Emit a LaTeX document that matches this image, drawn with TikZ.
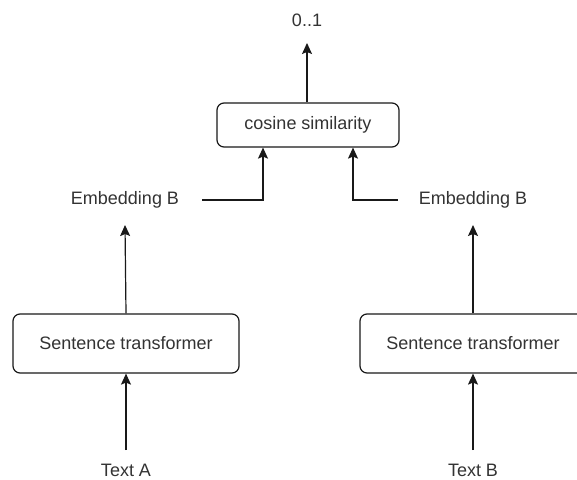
\documentclass[tikz,border=0pt]{standalone}
\usepackage{fontspec}
\setmainfont{Liberation Sans}
\usetikzlibrary{arrows.meta}
\begin{document}
\begin{tikzpicture}[x=1pt,y=-1pt,
  box/.style={draw=black!90, line width=1.2pt, rounded corners=7pt, minimum width=226pt, minimum height=59pt, text=black!80, font=\fontsize{18}{21}\selectfont, inner sep=0pt},
  cosbox/.style={draw=black!90, line width=1.2pt, rounded corners=7pt, minimum width=182pt, minimum height=44pt, text=black!80, font=\fontsize{18}{21}\selectfont, inner sep=0pt},
  lbl/.style={text=black!80, font=\fontsize{18}{21}\selectfont, inner sep=0pt},
  arr/.style={draw=black!90, line width=1.2pt, -{Stealth[length=11pt,width=10pt,inset=2pt]}},
  ln/.style={draw=black!90, line width=1.2pt}]
\useasboundingbox (0,0) rectangle (577,479);
\fill[white] (0,0) rectangle (577,479);
\node[lbl] (out) at (307,20) {0..1};
\node[cosbox] (cos) at (308,125) {cosine similarity};
\node[lbl] (embL) at (125,200) {Embedding B};
\node[lbl] (embR) at (473,200) {Embedding B};
\node[box] (stL) at (126,343.5) {Sentence transformer};
\node[box] (stR) at (473,343.5) {Sentence transformer};
\node[lbl] (textA) at (126,470) {Text A};
\node[lbl] (textB) at (473,470) {Text B};
\coordinate (outtip) at (307,43);
\draw[arr] (cos.north -| outtip) -- (outtip);
\draw[arr] ([xshift=23pt]embL.east) -| ([xshift=-45pt]cos.south);
\draw[arr] ([xshift=-21pt]embR.west) -| ([xshift=45pt]cos.south);
\draw[arr] (stL.north) -- ([yshift=-25pt]embL.center);
\draw[arr] (stR.north) -- ([yshift=-25pt]embR.center);
\draw[arr] ([yshift=20pt]textA.center) -- (stL.south);
\draw[arr] ([yshift=20pt]textB.center) -- (stR.south);
\end{tikzpicture}
\end{document}
